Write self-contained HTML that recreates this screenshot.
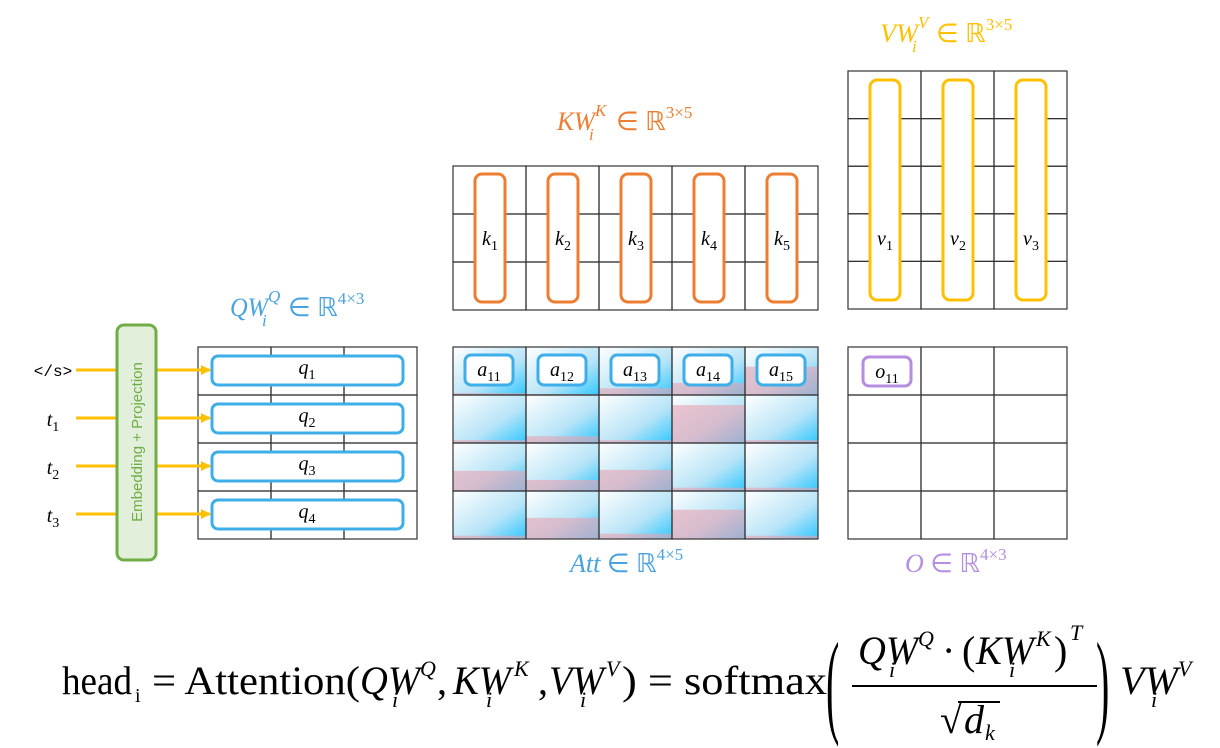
<!DOCTYPE html>
<html><head><meta charset="utf-8"><style>
html,body{margin:0;padding:0;background:#fff;}
svg{display:block;font-family:"Liberation Serif",serif;}
.it{font-style:italic;}
</style></head><body>
<svg id="fig" width="1220" height="748" viewBox="0 0 1220 748" xmlns="http://www.w3.org/2000/svg">
<defs>
<linearGradient id="cellg" x1="0" y1="0" x2="1" y2="1">
<stop offset="0" stop-color="#ffffff"/><stop offset="0.6" stop-color="#b8e4f7"/><stop offset="1" stop-color="#2fc8ff"/>
</linearGradient>
<marker id="arr" markerWidth="10" markerHeight="10" refX="9" refY="5" orient="auto" markerUnits="userSpaceOnUse">
<path d="M0,0 L10,5 L0,10 Z" fill="#ffc000"/></marker>
</defs>
<g id="g"></g>
<g fill="#4aa3df" font-size="26">
<text x="230" y="316" class="it" textLength="38" lengthAdjust="spacingAndGlyphs">QW</text>
<text x="262" y="326" class="it" font-size="17">i</text><text x="268" y="302" class="it" font-size="17">Q</text>
<text x="288" y="316">∈ ℝ<tspan font-size="17" dy="-12">4×3</tspan></text></g>
<g fill="#ed7d31" font-size="26">
<text x="557" y="130" class="it" textLength="38" lengthAdjust="spacingAndGlyphs">KW</text>
<text x="589" y="140" class="it" font-size="17">i</text><text x="595" y="116" class="it" font-size="17">K</text>
<text x="616" y="130">∈ ℝ<tspan font-size="17" dy="-12">3×5</tspan></text></g>
<g fill="#ffc000" font-size="26">
<text x="880" y="42" class="it" textLength="38" lengthAdjust="spacingAndGlyphs">VW</text>
<text x="912" y="52" class="it" font-size="17">i</text><text x="918" y="28" class="it" font-size="17">V</text>
<text x="936" y="42">∈ ℝ<tspan font-size="17" dy="-12">3×5</tspan></text></g>
<text x="570" y="572" fill="#4aa3df" font-size="26"><tspan class="it">Att</tspan> ∈ ℝ<tspan font-size="17" dy="-12">4×5</tspan></text>
<text x="905" y="572" fill="#b58ee0" font-size="26"><tspan class="it">O</tspan> ∈ ℝ<tspan font-size="17" dy="-12">4×3</tspan></text>
<g font-size="40">
<text x="62" y="694" textLength="70" lengthAdjust="spacingAndGlyphs">head</text>
<text x="135" y="702" font-size="20">i</text>
<text x="152" y="694" textLength="208" lengthAdjust="spacingAndGlyphs">= Attention(</text>
<text x="360" y="694" class="it" textLength="60" lengthAdjust="spacingAndGlyphs">QW</text>
<text x="392" y="707" class="it" font-size="22">i</text><text x="420" y="676" class="it" font-size="22">Q</text>
<text x="437" y="694">,</text>
<text x="453" y="694" class="it" textLength="58" lengthAdjust="spacingAndGlyphs">KW</text>
<text x="486" y="707" class="it" font-size="22">i</text><text x="514" y="676" class="it" font-size="22">K</text>
<text x="538" y="694">,</text>
<text x="549" y="694" class="it" textLength="55" lengthAdjust="spacingAndGlyphs">VW</text>
<text x="580" y="707" class="it" font-size="22">i</text><text x="606" y="676" class="it" font-size="22">V</text>
<text x="622" y="694" textLength="205" lengthAdjust="spacingAndGlyphs">) = softmax</text>
<text x="0" y="0" font-size="40" transform="translate(826,722) scale(1,2.9)">(</text>
<text x="858" y="664" class="it" textLength="60" lengthAdjust="spacingAndGlyphs">QW</text>
<text x="889" y="677" class="it" font-size="22">i</text><text x="918" y="646" class="it" font-size="22">Q</text>
<text x="942" y="664">·</text>
<text x="962" y="664">(</text>
<text x="976" y="664" class="it" textLength="58" lengthAdjust="spacingAndGlyphs">KW</text>
<text x="1009" y="677" class="it" font-size="22">i</text><text x="1036" y="646" class="it" font-size="22">K</text>
<text x="1054" y="664">)</text>
<text x="1070" y="640" class="it" font-size="22">T</text>
<line x1="852" y1="686" x2="1097" y2="686" stroke="#000" stroke-width="2"/>
<text x="940" y="733" textLength="22" lengthAdjust="spacingAndGlyphs">√</text>
<line x1="958" y1="702" x2="1000" y2="702" stroke="#000" stroke-width="2"/>
<text x="964" y="733" class="it">d</text><text x="985" y="740" class="it" font-size="22">k</text>
<text x="0" y="0" font-size="40" transform="translate(1096,722) scale(1,2.9)">)</text>
<text x="1120" y="694" class="it" textLength="58" lengthAdjust="spacingAndGlyphs">VW</text>
<text x="1151" y="707" class="it" font-size="22">i</text><text x="1178" y="676" class="it" font-size="22">V</text>
</g>
</svg>
<script>
const attRows = ["1","2","3","4"];
const attCols = ["1","2","3","4","5"];
const attValues = [
 [0.04,0.02,0.14,0.25,0.59],
 [0.06,0.14,0.06,0.79,0.06],
 [0.42,0.23,0.44,0.07,0.07],
 [0.07,0.44,0.11,0.61,0.07]
];
const tokens = ["</s>","t1","t2","t3"];
const NS="http://www.w3.org/2000/svg";
const g=document.getElementById('g');
function mk(t,a,p){const e=document.createElementNS(NS,t);for(const k in a)e.setAttribute(k,a[k]);(p||g).appendChild(e);return e;}
function grid(x,y,cw,rh,nc,nr,name){
 const gg=mk('g',{});
 
 
 for(let r=0;r<nr;r++)for(let c=0;c<nc;c++){
  const cell=mk('rect',{x:x+c*cw,y:y+r*rh,width:cw,height:rh,fill:'none',stroke:'#333','stroke-width':1.2},gg);
  
  
 }
 return gg;
}
function sub(x,y,base,s,color,size){
 size=size||20;
 const t=mk('text',{x:x,y:y,'text-anchor':'middle','font-size':size,fill:color||'#000','font-style':'italic'});
 
 
 t.textContent=base;
 const ts=mk('tspan',{'font-size':size*0.7,dy:5,'font-style':'normal'},t);ts.textContent=s;
 return t;
}
const ax=453,ay=347,acw=73,arh=48;
attValues.forEach((row,r)=>row.forEach((v,c)=>{
 const x=ax+c*acw,y=ay+r*arh;
 const bg=mk('rect',{x:x,y:y,width:acw,height:arh,fill:'url(#cellg)'});
 
 
 const h=v*arh;
 const bar=mk('rect',{x:x,y:y+arh-h,width:acw,height:h,fill:'#e8a2b2','fill-opacity':0.6});
 
 
}));
grid(ax,ay,acw,arh,5,4,'att-grid');
attCols.forEach((c,i)=>{
 const x=ax+i*acw+12,y=ay+8;
 const b=mk('rect',{x:x,y:y,width:48,height:30,rx:6,fill:'#fff',stroke:'#3daee9','stroke-width':3});
 
 
 sub(x+24,y+21,'a','1'+c);
});
grid(198,347,73,48,3,4,'q-grid');
attRows.forEach((r,i)=>{
 const y=347+i*48;
 const b=mk('rect',{x:212,y:y+9,width:191,height:29,rx:6,fill:'#fff',stroke:'#3daee9','stroke-width':3});
 
 
 sub(307,y+27,'q',r);
});
grid(453,166,73,48,5,3,'k-grid');
attCols.forEach((c,i)=>{
 const x=ax+i*acw+22;
 const b=mk('rect',{x:x,y:174,width:30,height:128,rx:7,fill:'#fff',stroke:'#ed7d31','stroke-width':3});
 
 
 sub(x+15,245,'k',c);
});
grid(848,71,73,47.6,3,5,'v-grid');
["1","2","3"].forEach((c,i)=>{
 const x=848+i*73+22;
 const b=mk('rect',{x:x,y:80,width:30,height:220,rx:7,fill:'#fff',stroke:'#ffc000','stroke-width':3});
 
 
 sub(x+15,245,'v',c);
});
grid(848,347,73,48,3,4,'o-grid');
const ob=mk('rect',{x:863,y:357,width:48,height:29,rx:6,fill:'#fff',stroke:'#b58ee0','stroke-width':3});


sub(887,378,'o','11');
tokens.forEach((t,i)=>{
 const y=370+i*48;
 const l=mk('line',{x1:76,y1:y,x2:210,y2:y,stroke:'#ffc000','stroke-width':3,'marker-end':'url(#arr)'});
 
 
 if(i==0){
  const tt=mk('text',{x:53,y:y+6,'text-anchor':'middle','font-size':16,'font-family':'Liberation Mono,monospace'});
  
  
  tt.textContent=t;
 } else sub(53,y+8,'t',t.slice(1),'#000',20);
});
const emb=mk('rect',{x:117,y:325,width:39,height:235,rx:7,fill:'#e2efda',stroke:'#70ad47','stroke-width':3});


const et=mk('text',{x:0,y:0,transform:'translate(142,442) rotate(-90)','text-anchor':'middle','font-size':15,fill:'#70ad47','font-family':'Liberation Sans,sans-serif'});


et.textContent='Embedding + Projection';
</script>
</body></html>
